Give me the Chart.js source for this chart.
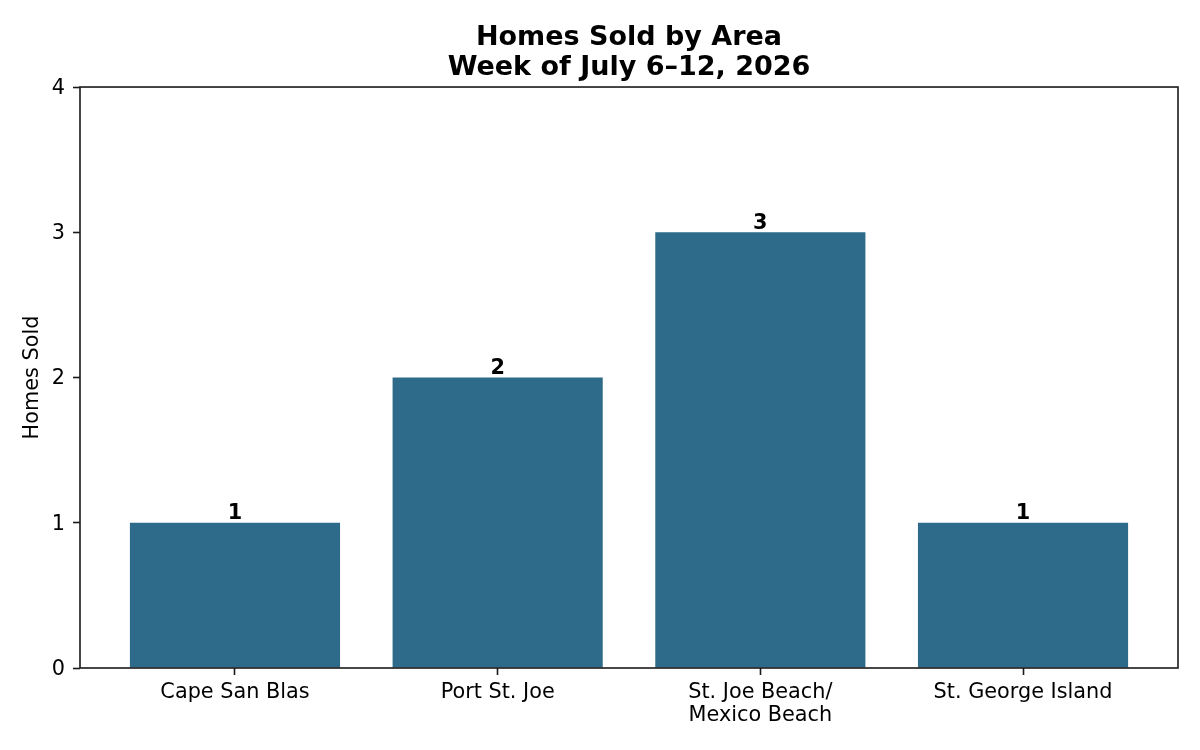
<!DOCTYPE html>
<html>
<head>
<meta charset="utf-8">
<script src="https://cdn.jsdelivr.net/npm/chart.js@4"></script>
<style>
  html, body { margin: 0; padding: 0; background: #fff; }
  #wrap { width: 1200px; height: 750px; }
</style>
</head>
<body>
<div id="wrap"><canvas id="chart" width="1200" height="750"></canvas></div>
<script>
// Datos del gráfico
const areas = ['Cape San Blas', 'Port St. Joe', 'St. Joe Beach/\nMexico Beach', 'St. George Island'];
const homesSold = [1, 2, 3, 1];
const yTicks = [0, 1, 2, 3, 4];
const titleLines = ['Homes Sold by Area', 'Week of July 6–12, 2026'];
const yTitle = 'Homes Sold';

const FONT = 'DejaVu Sans';
const BAR_COLOR = '#2e6b8a';
const TICK_SIZE = 20.8;

// marco completo alrededor del área del gráfico (estilo matplotlib)
const frame = {
	id: 'frame',
	afterLayout(chart) {
		// centra el título sobre el área del gráfico, no sobre el lienzo
		const a = chart.chartArea;
		if (chart.titleBlock) {
			chart.titleBlock.left = a.left;
			chart.titleBlock.right = a.right;
		}
	},
	afterDatasetsDraw(chart) {
		const { ctx, chartArea: a } = chart;
		ctx.save();
		ctx.strokeStyle = '#1a1a1a';
		ctx.lineWidth = 1.6;
		ctx.strokeRect(a.left, a.top, a.right - a.left, a.bottom - a.top);
		ctx.restore();
	}
};

// etiquetas de valor encima de cada barra
const valueLabels = {
	id: 'valueLabels',
	afterDatasetsDraw(chart) {
		const { ctx } = chart;
		const meta = chart.getDatasetMeta(0);
		ctx.save();
		ctx.font = `bold ${TICK_SIZE}px "${FONT}"`;
		ctx.fillStyle = '#000';
		ctx.textAlign = 'center';
		ctx.textBaseline = 'alphabetic';
		meta.data.forEach((bar, i) => {
			ctx.fillText(String(homesSold[i]), bar.x, bar.y - 3.5);
		});
		ctx.restore();
	}
};

const data = {
	datasets: [{
		data: homesSold.map((v, i) => ({ x: i, y: v })),
		backgroundColor: BAR_COLOR,
		borderWidth: 0,
		inflateAmount: 0,
		barPercentage: 1,
		categoryPercentage: 0.8
	}]
};

const tickGrid = {
	drawOnChartArea: false,
	drawTicks: true,
	tickLength: 7,
	tickColor: '#1a1a1a',
	tickWidth: 1.6
};

const config = {
	type: 'bar',
	data,
	options: {
		responsive: false,
		animation: false,
		layout: {
			padding: { top: 0, right: 22, bottom: 0, left: 0 }
		},
		plugins: {
			legend: { display: false },
			tooltip: { enabled: false },
			title: {
				display: true,
				text: titleLines,
				color: '#000',
				font: { family: FONT, size: 27, weight: 'bold', lineHeight: 1.093 },
				padding: { top: 23.5, bottom: 4.5 }
			}
		},
		scales: {
			x: {
				type: 'linear',
				min: -0.59,
				max: 3.59,
				offset: false,
				afterBuildTicks: (scale) => {
					scale.ticks = areas.map((_, i) => ({ value: i }));
				},
				afterFit: (scale) => { scale.height = 82; },
				border: { display: false },
				grid: Object.assign({ offset: false }, tickGrid),
				ticks: {
					autoSkip: false,
					maxRotation: 0,
					padding: 6,
					color: '#000',
					font: { family: FONT, size: TICK_SIZE, lineHeight: 1.106 },
					callback: (value) => {
						const label = areas[value];
						return label === undefined ? '' : label.split('\n');
					}
				}
			},
			y: {
				min: 0,
				max: 4,
				afterBuildTicks: (scale) => {
					scale.ticks = yTicks.map((v) => ({ value: v }));
				},
				afterFit: (scale) => { scale.width = 80; },
				border: { display: false },
				grid: tickGrid,
				ticks: {
					padding: 8,
					labelOffset: 1.5,
					color: '#000',
					font: { family: FONT, size: TICK_SIZE },
					callback: (value) => String(value)
				},
				title: {
					display: true,
					text: yTitle,
					color: '#000',
					font: { family: FONT, size: TICK_SIZE, lineHeight: 1.2 },
					padding: { top: 20, bottom: 0 }
				}
			}
		}
	},
	plugins: [frame, valueLabels]
};

const canvas = document.getElementById('chart');
const graph = new Chart(canvas, config);
</script>
</body>
</html>
